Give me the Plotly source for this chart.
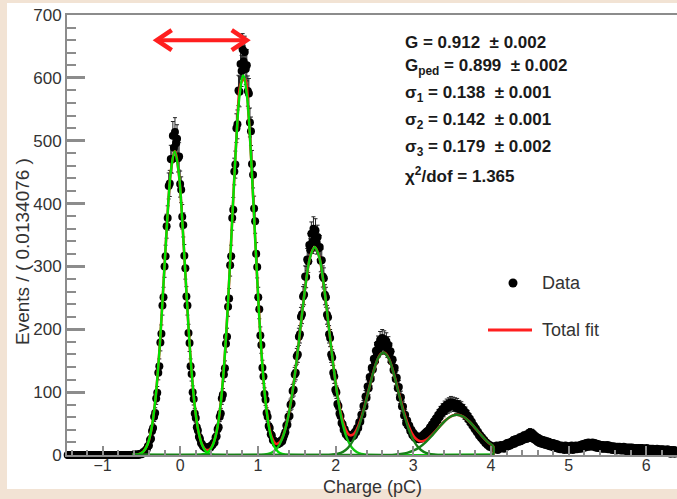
import numpy as np
import plotly.graph_objects as go

# ---------------- data (histogram, bin width 0.0134076 pC) ----------------
BIN_WIDTH = 0.0134076
FIRST_BIN_CENTER = -1.45

counts = [
    0, 0, 0, 0, 0, 0, 0, 0, 0, 0, 0, 0, 0, 0, 0, 0, 0, 0, 0, 0,
    0, 0, 0, 0, 0, 0, 0, 0, 0, 0, 0, 0, 0, 0, 0, 0, 0, 0, 0, 0,
    0, 0, 0, 0, 0, 0, 0, 0, 0, 0, 0, 0, 0, 0, 0, 0, 0, 0, 0, 0,
    0, 0, 0, 0, 1, 0,
    0, 1, 0, 1, 2, 1, 3, 5, 4, 8,
    9, 14, 15, 24, 26, 38, 43, 61, 67, 90,
    99, 131, 141, 179, 193, 238, 251, 300, 316, 364,
    377, 428, 432, 471, 470, 508, 489, 514, 496, 503,
    472, 475, 431, 422, 379, 366, 317, 297, 252, 238,
    194, 178, 141, 129, 100, 89, 66, 59, 44, 39,
    29, 26, 19, 17, 14, 13, 11, 12, 10, 12,
    13, 12, 15, 16, 19, 20, 28, 30, 41, 44,
    61, 66, 90, 96, 128, 138, 177, 188, 236, 249,
    302, 316, 377, 390, 451, 462, 520, 526, 580, 578,
    622, 611, 645, 626, 641, 614, 620, 579, 575, 529,
    515, 463, 446, 392, 372, 320, 299, 251, 232, 190,
    175, 139, 125, 97, 88, 67, 61, 46, 43, 33,
    31, 24, 23, 21, 18, 20, 17, 21, 19, 23,
    22, 27, 32, 36, 47, 48, 61, 62, 80, 82,
    102, 104, 128, 131, 157, 160, 188, 192, 220, 224,
    252, 255, 284, 283, 311, 308, 334, 326, 352, 339,
    360, 343, 357, 338, 347, 329, 331, 309, 310, 284,
    281, 255, 251, 223, 219, 192, 186, 160, 155, 131,
    125, 104, 100, 81, 78, 66, 62, 51, 49, 40,
    41, 33, 34, 29, 31, 27, 31, 29, 33, 31,
    37, 36, 43, 43, 52, 53, 64, 64, 78, 77,
    93, 91, 109, 106, 124, 121, 139, 136, 153, 149,
    166, 160, 176, 169, 183, 173, 186, 176, 184, 173,
    181, 168, 175, 160, 165, 149, 152, 135, 139, 121,
    123, 106, 108, 91, 92, 77, 77, 63, 64, 51,
    55, 46, 47, 38, 40, 32, 35, 28, 31, 26,
    29, 25, 29, 26, 30, 27, 33, 30, 36, 33,
    39, 37, 44, 40, 49, 45, 54, 50, 59, 55,
    64, 60, 69, 66, 73, 69, 77, 73, 80, 75,
    82, 77, 84, 79, 83, 78, 82, 75, 81, 74,
    78, 72, 76, 69, 72, 65, 68, 61, 63, 56,
    58, 51, 53, 46, 47, 41, 42, 36, 37, 31,
    32, 27, 28, 23, 24, 19, 20, 16, 17, 13,
    15, 12, 14, 11, 12,
    9, 15, 8, 13, 10, 16, 11, 15, 10, 17,
    13, 19, 14, 20, 15, 21, 17, 24, 18, 25,
    20, 26, 21, 28, 22, 29, 24, 31, 25, 32,
    26, 34, 27, 36, 28, 35, 26, 32, 24, 29,
    21, 27, 19, 25, 18, 24, 17, 23, 16, 22,
    15, 21, 14, 19, 13, 19, 12, 18, 11, 17,
    10, 15, 9, 15, 9, 14, 8, 15, 9, 14,
    8, 14, 9, 15, 8, 14, 9, 15, 9, 14,
    10, 16, 10, 17, 11, 18, 12, 19, 13, 20,
    13, 19, 14, 20, 13, 19, 12, 18, 11, 17,
    11, 16, 10, 16, 10, 15, 10, 16, 9, 15,
    9, 14, 8, 14, 8, 13, 7, 13, 8, 13,
    7, 12, 7, 13, 7, 12, 6, 12, 7, 12,
    6, 12, 6, 11, 6, 11, 5, 11, 6, 11,
    5, 11, 6, 10, 5, 11, 5, 10, 4, 10,
    5, 10, 4, 9, 4, 10, 4, 9, 3, 9,
    4, 9, 3, 8, 3, 9, 3, 8, 2, 8,
    3, 8, 2, 7,
]

# ---------------- fit components (Gaussians) ----------------
ped_x = [-0.62, -0.572, -0.522, -0.472, -0.422, -0.372, -0.322, -0.272, -0.222, -0.172, -0.122,
         -0.072, -0.022, 0.028, 0.078, 0.128, 0.178, 0.228, 0.278, 0.328, 0.378, 0.428, 0.478, 4.03]
ped_y = [0.1, 0.5, 1.9, 6.0, 16.8, 40.9, 87, 161, 260.5, 367, 451,
         483, 451, 367, 260.5, 161, 87, 40.9, 16.8, 6.0, 1.9, 0.5, 0.1, 0]

pe1_x = [-0.62, 0.21, 0.26, 0.31, 0.36, 0.41, 0.46, 0.51, 0.56, 0.61, 0.66, 0.71, 0.76,
         0.81, 0.86, 0.91, 0.96, 1.01, 1.06, 1.11, 1.16, 1.21, 1.26, 1.31, 1.36, 1.41, 4.03]
pe1_y = [0, 0.1, 0.45, 1.6, 4.9, 13.4, 32.8, 71, 137, 233, 354, 476, 569,
         604, 569, 476, 354, 233, 137, 71, 32.8, 13.4, 4.9, 1.6, 0.45, 0.1, 0]

pe2_x = [-0.62, 1.01, 1.07, 1.13, 1.19, 1.25, 1.31, 1.37, 1.43, 1.49, 1.55, 1.61, 1.67,
         1.73, 1.79, 1.85, 1.91, 1.97, 2.03, 2.09, 2.15, 2.21, 2.27, 2.33, 2.39, 2.45, 4.03]
pe2_y = [0, 0.17, 0.57, 1.7, 4.7, 11.4, 25.2, 49.9, 88.9, 142.7, 206, 268, 314,
         331, 314, 268, 206, 142.7, 88.9, 49.9, 25.2, 11.4, 4.7, 1.7, 0.57, 0.17, 0]

pe3_x = [-0.62, 1.834, 1.899, 1.964, 2.029, 2.094, 2.159, 2.224, 2.289, 2.354, 2.419, 2.484, 2.549,
         2.614, 2.679, 2.744, 2.809, 2.874, 2.939, 3.004, 3.069, 3.134, 3.199, 3.264, 3.329, 3.394, 4.03]
pe3_y = [0, 0.06, 0.22, 0.70, 2.0, 5.0, 11.3, 23, 41.8, 68.2, 99.9, 131.1, 154.4,
         163, 154.4, 131.1, 99.9, 68.2, 41.8, 23, 11.3, 5.0, 2.0, 0.70, 0.22, 0.06, 0]

pe4_x = [-0.62, 2.60, 2.68, 2.76, 2.84, 2.92, 3.00, 3.08, 3.16, 3.24, 3.32, 3.40, 3.48,
         3.56, 3.64, 3.72, 3.80, 3.88, 3.96, 4.03, 4.03]
pe4_y = [0, 0.09, 0.26, 0.67, 1.6, 3.5, 6.9, 12.4, 20.5, 30.9, 42.5, 53.3, 61.2,
         64, 61.2, 53.3, 42.5, 30.9, 20.5, 13.3, 0]

total_x = [-0.62, -0.57, -0.52, -0.47, -0.42, -0.37, -0.32, -0.27, -0.22, -0.17, -0.12, -0.07,
           -0.02, 0.03, 0.08, 0.13, 0.18, 0.23, 0.28, 0.33, 0.38, 0.43, 0.48, 0.53, 0.58, 0.63,
           0.68, 0.73, 0.78, 0.83, 0.88, 0.93, 0.98, 1.03, 1.08, 1.13, 1.18, 1.23, 1.28, 1.33,
           1.38, 1.43, 1.48, 1.53, 1.58, 1.63, 1.68, 1.73, 1.78, 1.83, 1.88, 1.93, 1.98, 2.03,
           2.08, 2.13, 2.18, 2.23, 2.28, 2.33, 2.38, 2.43, 2.48, 2.53, 2.58, 2.63, 2.68, 2.73,
           2.78, 2.83, 2.88, 2.93, 2.98, 3.03, 3.08, 3.13, 3.18, 3.23, 3.28, 3.33, 3.38, 3.43,
           3.48, 3.53, 3.58, 3.63, 3.68, 3.73, 3.78, 3.83, 3.88, 3.93, 3.98, 4.03, 4.03]
total_y = [0.1, 0.5, 2.0, 6.3, 17.4, 42.2, 89.4, 164.6, 264.9, 371, 453, 483,
           448.5, 363, 256.2, 157.7, 84.7, 39.8, 16.9, 8.2, 9.2, 20, 45.4, 93.6, 171.7, 279.5,
           404, 518.7, 591.2, 598.3, 537.6, 428.8, 303.9, 191.3, 107.4, 54.6, 27.3, 17.7, 20.4, 33,
           55.6, 89, 132.8, 184.5, 238.3, 286, 319.1, 331, 319.1, 286, 238.3, 184.9, 133.7, 90.9,
           59.4, 40, 31.6, 33, 42.7, 59.4, 81.2, 105.7, 129.4, 148.8, 160.6, 162.5, 154.4, 137.5,
           115.1, 90.8, 67.9, 48.8, 34.8, 26.2, 22.3, 22.4, 25.5, 30.7, 37.1, 44.1, 50.9, 56.7,
           61.2, 63.6, 63.8, 61.8, 57.8, 52.1, 45.3, 38.1, 30.9, 24.1, 18.2, 13.3, 0]

stats_lines = [
    "G = 0.912 \u00a0\u00b1 0.002",
    "G<sub>ped</sub> = 0.899 \u00a0\u00b1 0.002",
    "\u03c3<sub>1</sub> = 0.138 \u00a0\u00b1 0.001",
    "\u03c3<sub>2</sub> = 0.142 \u00a0\u00b1 0.001",
    "\u03c3<sub>3</sub> = 0.179 \u00a0\u00b1 0.002",
    "\u03c7<sup>2</sup>/dof = 1.365",
]
stats_y_px = [42, 67, 94, 121, 148, 175]

arrow_x = [-0.304, 0.855]
arrow_y = 660

x_range = [-1.459, 6.395]
y_range = [0, 700]

# ---------------- figure ----------------
counts_arr = np.array(counts, dtype=float)
charge = FIRST_BIN_CENTER + BIN_WIDTH * np.arange(len(counts_arr))
errors = np.sqrt(counts_arr)

FONT = "Liberation Sans, Arial, Helvetica, sans-serif"
GREEN = "#00e400"
GREEN_MID = "#10c810"
GREEN_DARK = "#1a7f1a"
RED = "#ff1f1f"

fig = go.Figure()

fig.add_trace(go.Scatter(
    x=charge, y=counts_arr, mode="markers",
    marker=dict(color="black", size=8),
    error_y=dict(type="data", array=errors, visible=True, color="#222", thickness=1, width=2),
    cliponaxis=False, name="Data"))

fig.add_trace(go.Scatter(x=total_x, y=total_y, mode="lines",
                         line=dict(color=RED, width=2.6, shape="spline"), name="Total fit"))
for xs, ys, col in [(ped_x, ped_y, GREEN), (pe1_x, pe1_y, GREEN), (pe2_x, pe2_y, GREEN_MID),
                    (pe3_x, pe3_y, GREEN_DARK), (pe4_x, pe4_y, GREEN_DARK)]:
    fig.add_trace(go.Scatter(x=xs, y=ys, mode="lines",
                             line=dict(color=col, width=2.4, shape="spline"), showlegend=False))

L, T, R, B = 67, 15, 0, 44
W, H = 677, 499
PW, PH = W - L - R, H - T - B


def px(xp):
    return (xp - L) / PW


def py(yp):
    return (H - B - yp) / PH


fig.update_layout(
    width=W, height=H,
    margin=dict(l=L, r=R, t=T, b=B, pad=0),
    paper_bgcolor="#f2e3d4", plot_bgcolor="white",
    showlegend=False,
    font=dict(family=FONT, color="#333333"),
)

AXC = "#8c8c8c"
fig.update_xaxes(range=x_range, showline=True, linecolor=AXC, linewidth=2, mirror=True,
                 ticks="inside", ticklen=9, tickwidth=2, tickcolor=AXC, tick0=0, dtick=1,
                 ticklabelstandoff=-5,
                 minor=dict(ticks="inside", ticklen=5, tickwidth=1.5, tickcolor=AXC, dtick=0.2),
                 showgrid=False, zeroline=False, tickfont=dict(size=16, color="#333"))
fig.update_yaxes(range=y_range, showline=True, linecolor=AXC, linewidth=2,
                 ticks="inside", ticklen=18, tickwidth=2.5, tickcolor=AXC, tick0=0, dtick=100,
                 minor=dict(ticks="inside", ticklen=9, tickwidth=2, tickcolor=AXC, dtick=20),
                 showgrid=False, zeroline=False, tickfont=dict(size=17, color="#333"))

# white canvas panel over beige background
fig.add_shape(type="rect", xref="paper", yref="paper", x0=px(7), x1=px(690), y0=py(489), y1=py(3),
              fillcolor="white", line_width=0, layer="below")

# double arrow
fig.add_shape(type="line", xref="x", yref="y", x0=arrow_x[0], x1=arrow_x[1], y0=arrow_y, y1=arrow_y,
              line=dict(color=RED, width=4))
for ax_, sgn in [(arrow_x[0], 1), (arrow_x[1], -1)]:
    fig.add_shape(type="path", xref="x", yref="y", xsizemode="pixel", ysizemode="pixel",
                  xanchor=ax_, yanchor=arrow_y,
                  path=f"M {15*sgn} 10 L 0 0 L {15*sgn} -10",
                  line=dict(color=RED, width=4.5))

# stats box text
for txt, ypx in zip(stats_lines, stats_y_px):
    fig.add_annotation(xref="paper", yref="paper", x=px(403), y=py(ypx), xanchor="left",
                       yanchor="middle", text=f"<b>{txt}</b>", showarrow=False,
                       font=dict(size=17, color="#1a1a1a", family=FONT))

# legend
fig.add_shape(type="circle", xref="paper", yref="paper", xsizemode="pixel", ysizemode="pixel",
              xanchor=px(513), yanchor=py(283), x0=-4.5, x1=4.5, y0=-4.5, y1=4.5,
              fillcolor="black", line_width=0)
fig.add_shape(type="line", xref="paper", yref="paper", x0=px(488), x1=px(532), y0=py(330), y1=py(330),
              line=dict(color=RED, width=3))
fig.add_annotation(xref="paper", yref="paper", x=px(540), y=py(283), xanchor="left", yanchor="middle",
                   text="Data", showarrow=False, font=dict(size=18, color="#333"))
fig.add_annotation(xref="paper", yref="paper", x=px(540), y=py(330), xanchor="left", yanchor="middle",
                   text="Total fit", showarrow=False, font=dict(size=18, color="#333"))

# axis titles
fig.add_annotation(xref="paper", yref="paper", x=px(372), y=py(487), xanchor="center", yanchor="middle",
                   text="Charge (pC)", showarrow=False, font=dict(size=18, color="#333"))
fig.add_annotation(xref="paper", yref="paper", x=px(23), y=py(252), xanchor="center", yanchor="middle",
                   text="Events / ( 0.0134076 )", textangle=-90, showarrow=False,
                   font=dict(size=19, color="#333"))

fig.write_html("out.html")
